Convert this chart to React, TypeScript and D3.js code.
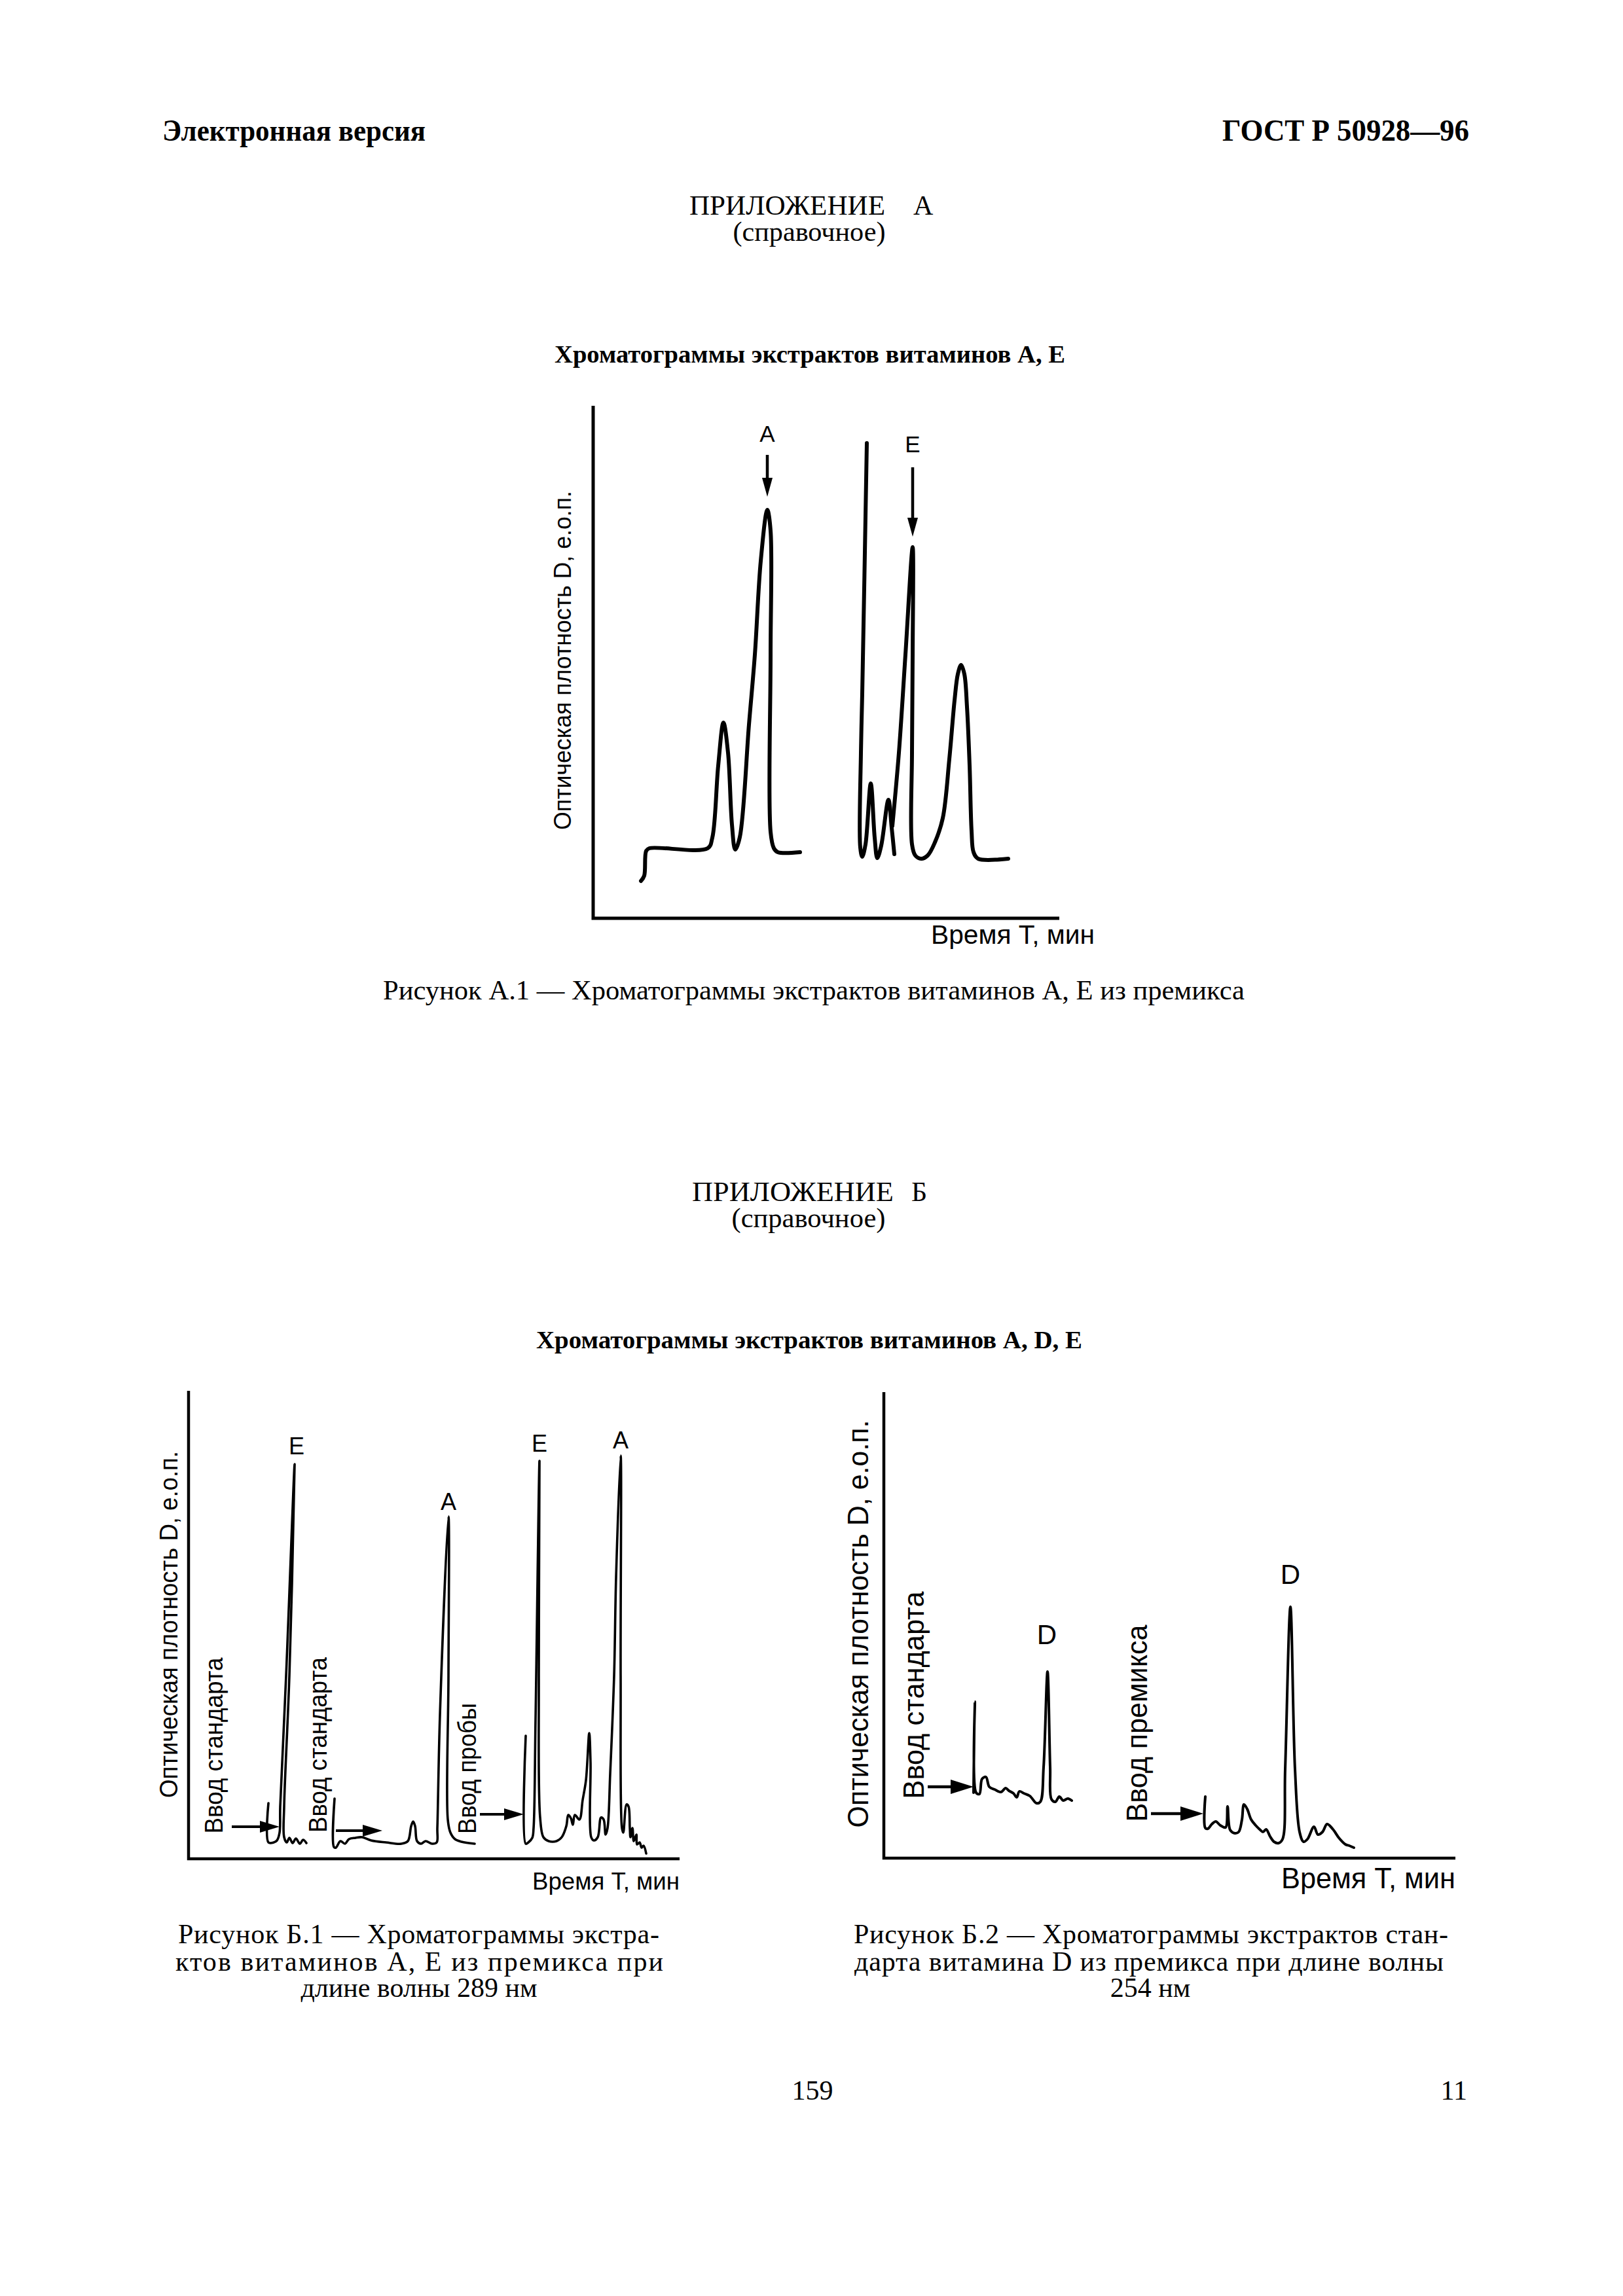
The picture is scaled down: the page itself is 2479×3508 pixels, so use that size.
import React from "react";
import * as d3 from "d3";

type Pt = [number, number];

// ---------- DATA (relative time, optical density; arbitrary units from the axis origin) ----------
// Figure A.1
const a1Run1: Pt[] = [[73,57],[78,65],[81,103],[86,107],[175,107],[182,123],[191,233],[199,299],[206,253],[212,143],[217,105],[224,124],[238,296],[247,403],[256,546],[266,624],[271,592],[271,403],[271,132],[276,107],[282,101],[316,101]];
const a1Run2: Pt[] = [[418,726],[411,343],[409,253],[408,108],[411,94],[416,113],[424,206],[430,123],[434,92],[440,111],[451,181],[456,138],[460,98]];
const a1Run3: Pt[] = [[457,141],[467,253],[477,403],[488,567],[488,403],[487,253],[487,113],[492,96],[501,91],[511,96],[522,116],[534,153],[544,243],[552,333],[557,373],[562,387],[567,373],[571,323],[575,233],[578,133],[581,101],[588,91],[634,91]];
const a1Arrows = [
  { label: "А", t: 266, tipD: 644, tailD: 708, labelD: 728 },
  { label: "Е", t: 488, tipD: 583, tailD: 689, labelD: 712 },
];

// Figure Б.1
const b1Run1: Pt[] = [[122,85],[122,25],[130,25],[135,28],[139,40],[140,80],[149,280],[162,603],[154,280],[146,80],[146,33],[150,25],[154,32],[159,24],[164,31],[170,23],[175,29],[180,24]];
const b1Run2: Pt[] = [[223,92],[222,18],[225,17],[232,27],[239,23],[245,30],[255,32],[265,33],[279,28],[302,25],[325,23],[335,27],[340,50],[343,57],[346,50],[349,27],[355,23],[362,27],[372,23],[379,25],[380,47],[384,220],[397,523],[397,280],[396,60],[400,40],[407,30],[417,26],[437,23]];
const b1Run3: Pt[] = [[515,188],[515,23],[519,25],[525,32],[527,47],[530,213],[536,608],[535,280],[537,63],[542,33],[550,27],[562,27],[570,33],[577,50],[580,67],[584,62],[587,52],[590,67],[597,60],[602,90],[607,120],[612,192],[614,147],[615,33],[619,28],[625,33],[630,63],[634,60],[637,37],[640,47],[644,130],[650,280],[653,430],[660,616],[660,280],[662,47],[664,40],[669,83],[672,80],[674,47],[675,33],[678,47],[680,27],[684,37],[685,22],[689,25],[692,17],[695,20],[699,8]];
const b1Injections = [
  { text: "Ввод стандарта", t0: 66, t1: 139, d: 49, labelT: 52, labelD: 173, len: 269 },
  { text: "Ввод стандарта", t0: 225, t1: 296, d: 43, labelT: 211, labelD: 174, len: 268 },
  { text: "Ввод пробы", t0: 445, t1: 512, d: 68, labelT: 439, labelD: 138, len: 200 },
];
const b1Peaks = [
  { label: "Е", t: 165, d: 618 },
  { label: "А", t: 397, d: 533 },
  { label: "Е", t: 536, d: 622 },
  { label: "А", t: 660, d: 627 },
];

// Figure Б.2
const b2Run1: Pt[] = [[137,100],[139,239],[141,100],[146,98],[150,121],[156,124],[161,109],[169,105],[179,101],[186,107],[191,103],[198,99],[203,93],[207,102],[214,99],[223,95],[233,84],[239,86],[244,139],[250,285],[254,139],[256,90],[262,86],[268,94],[274,88],[281,91],[287,88]];
const b2Run2: Pt[] = [[491,94],[491,46],[495,45],[501,52],[507,56],[514,50],[522,47],[525,79],[529,43],[536,38],[542,40],[547,59],[550,82],[555,75],[561,59],[568,50],[574,44],[579,40],[584,44],[590,33],[596,25],[603,23],[609,29],[613,136],[621,384],[628,136],[635,40],[641,25],[647,29],[657,48],[663,36],[670,40],[677,52],[686,44],[695,31],[705,21],[711,19],[718,16]];
const b2Injections = [
  { text: "Ввод стандарта", t0: 67, t1: 137, d: 109, labelT: 61, labelD: 249, len: 317 },
  { text: "Ввод премикса", t0: 408, t1: 488, d: 68, labelT: 402, labelD: 206, len: 301 },
];
const b2Peaks = [
  { label: "D", t: 249, d: 327 },
  { label: "D", t: 621, d: 419 },
];

// Texts
const headerLeft = "Электронная версия";
const headerRight = "ГОСТ Р 50928—96";
const appendixA = ["ПРИЛОЖЕНИЕ", "А"];
const appendixB = ["ПРИЛОЖЕНИЕ", "Б"];
const reference = "(справочное)";
const titleA = "Хроматограммы экстрактов витаминов А, Е";
const titleB = "Хроматограммы экстрактов витаминов А, D, Е";
const captionA1 = "Рисунок А.1 — Хроматограммы экстрактов витаминов А, Е из премикса";
const captionB1 = ["Рисунок Б.1 — Хроматограммы экстра-", "ктов витаминов А, Е из премикса при", "длине волны 289 нм"];
const captionB2 = ["Рисунок Б.2 — Хроматограммы экстрактов стан-", "дарта витамина D из премикса при длине волны", "254 нм"];
const yLabel = "Оптическая плотность D, е.о.п.";
const xLabel = "Время Т, мин";
const pageNumbers = ["159", "11"];

// ---------- LAYOUT ----------
const SERIF = "'Liberation Serif', 'Times New Roman', serif";
const SANS = "'Liberation Sans', Arial, sans-serif";

function makeScales(left: number, right: number, bottom: number, top: number, tMax: number, dMax: number) {
  const x = d3.scaleLinear().domain([0, tMax]).range([left, right]);
  const y = d3.scaleLinear().domain([0, dMax]).range([bottom, top]);
  return { x, y, tMax, dMax };
}

const sA1 = makeScales(906, 1618, 1403, 620, 712, 783);
const sB1 = makeScales(288, 1038, 2840, 2125, 750, 715);
const sB2 = makeScales(1350, 2223, 2839, 2127, 873, 712);

type Sc = ReturnType<typeof makeScales>;

function Trace({ pts, s, w }: { pts: Pt[]; s: Sc; w: number }) {
  const line = d3
    .line<Pt>()
    .x((d) => s.x(d[0]))
    .y((d) => s.y(d[1]))
    .curve(d3.curveCatmullRom.alpha(0.5));
  return <path d={line(pts) || ""} fill="none" stroke="#000" strokeWidth={w} strokeLinejoin="round" strokeLinecap="round" />;
}

function Axes({ s, w }: { s: Sc; w: number }) {
  const d = `M${s.x(0)},${s.y(s.dMax)}L${s.x(0)},${s.y(0)}L${s.x(s.tMax)},${s.y(0)}`;
  return <path d={d} fill="none" stroke="#000" strokeWidth={w} strokeLinejoin="miter" />;
}

function RotText({ x, y, text, size, len }: { x: number; y: number; text: string; size: number; len: number }) {
  return (
    <text
      transform={`translate(${x},${y}) rotate(-90)`}
      textAnchor="middle"
      fontFamily={SANS}
      fontSize={size}
      textLength={len}
      lengthAdjust="spacingAndGlyphs"
    >
      {text}
    </text>
  );
}

function HArrow({ x0, x1, y, head, half, w }: { x0: number; x1: number; y: number; head: number; half: number; w: number }) {
  return (
    <g>
      <line x1={x0} y1={y} x2={x1 - head + 2} y2={y} stroke="#000" strokeWidth={w} />
      <polygon points={`${x1},${y} ${x1 - head},${y - half} ${x1 - head},${y + half}`} fill="#000" />
    </g>
  );
}

export default function App() {
  return (
    <svg
      width={2479}
      height={3508}
      viewBox="0 0 2479 3508"
      style={{ position: "absolute", left: 0, top: 0, background: "#fff" }}
    >
      <rect x={0} y={0} width={2479} height={3508} fill="#fff" />

      {/* Header */}
      <text x={248} y={215} fontFamily={SERIF} fontWeight="bold" fontSize={46} textLength={402} lengthAdjust="spacingAndGlyphs">
        {headerLeft}
      </text>
      <text x={1867} y={215} fontFamily={SERIF} fontWeight="bold" fontSize={46} textLength={377} lengthAdjust="spacingAndGlyphs">
        {headerRight}
      </text>

      {/* Appendix A */}
      <text x={1053} y={328} fontFamily={SERIF} fontSize={42} textLength={299} lengthAdjust="spacingAndGlyphs">{appendixA[0]}</text>
      <text x={1395} y={328} fontFamily={SERIF} fontSize={42}>{appendixA[1]}</text>
      <text x={1236} y={368} textAnchor="middle" fontFamily={SERIF} fontSize={42} textLength={233} lengthAdjust="spacingAndGlyphs">{reference}</text>
      <text x={1237} y={554} textAnchor="middle" fontFamily={SERIF} fontWeight="bold" fontSize={38} textLength={780} lengthAdjust="spacingAndGlyphs">{titleA}</text>

      {/* Figure A.1 */}
      <Axes s={sA1} w={5} />
      <Trace pts={a1Run1} s={sA1} w={6} />
      <Trace pts={a1Run2} s={sA1} w={6} />
      <Trace pts={a1Run3} s={sA1} w={6} />
      {a1Arrows.map((a, i) => {
        const x = sA1.x(a.t);
        const tip = sA1.y(a.tipD);
        return (
          <g key={i}>
            <line x1={x} y1={sA1.y(a.tailD)} x2={x} y2={tip - 26} stroke="#000" strokeWidth={4.5} />
            <polygon points={`${x},${tip} ${x - 8},${tip - 29} ${x + 8},${tip - 29}`} fill="#000" />
            <text x={x} y={sA1.y(a.labelD)} textAnchor="middle" fontFamily={SANS} fontSize={35}>{a.label}</text>
          </g>
        );
      })}
      <RotText x={872} y={1009} text={yLabel} size={36} len={518} />
      <text x={1422} y={1442} fontFamily={SANS} fontSize={40} textLength={250} lengthAdjust="spacingAndGlyphs">{xLabel}</text>
      <text x={1243} y={1527} textAnchor="middle" fontFamily={SERIF} fontSize={42} textLength={1316} lengthAdjust="spacingAndGlyphs">{captionA1}</text>

      {/* Appendix B */}
      <text x={1057} y={1835} fontFamily={SERIF} fontSize={42} textLength={308} lengthAdjust="spacingAndGlyphs">{appendixB[0]}</text>
      <text x={1392} y={1835} fontFamily={SERIF} fontSize={42}>{appendixB[1]}</text>
      <text x={1235} y={1875} textAnchor="middle" fontFamily={SERIF} fontSize={42} textLength={235} lengthAdjust="spacingAndGlyphs">{reference}</text>
      <text x={1236} y={2060} textAnchor="middle" fontFamily={SERIF} fontWeight="bold" fontSize={38} textLength={834} lengthAdjust="spacingAndGlyphs">{titleB}</text>

      {/* Figure Б.1 */}
      <Axes s={sB1} w={4.5} />
      <Trace pts={b1Run1} s={sB1} w={3.6} />
      <Trace pts={b1Run2} s={sB1} w={3.6} />
      <Trace pts={b1Run3} s={sB1} w={3.6} />
      {b1Injections.map((a, i) => (
        <g key={i}>
          <HArrow x0={sB1.x(a.t0)} x1={sB1.x(a.t1)} y={sB1.y(a.d)} head={30} half={9} w={4} />
          <RotText x={sB1.x(a.labelT)} y={sB1.y(a.labelD)} text={a.text} size={38} len={a.len} />
        </g>
      ))}
      {b1Peaks.map((p, i) => (
        <text key={i} x={sB1.x(p.t)} y={sB1.y(p.d)} textAnchor="middle" fontFamily={SANS} fontSize={36}>{p.label}</text>
      ))}
      <RotText x={271} y={2482} text={yLabel} size={39} len={530} />
      <text x={1038} y={2887} textAnchor="end" fontFamily={SANS} fontSize={37} textLength={225} lengthAdjust="spacingAndGlyphs">{xLabel}</text>
      <text x={272} y={2969} fontFamily={SERIF} fontSize={42} textLength={735} lengthAdjust="spacing">{captionB1[0]}</text>
      <text x={268} y={3011} fontFamily={SERIF} fontSize={42} textLength={745} lengthAdjust="spacing">{captionB1[1]}</text>
      <text x={640} y={3051} textAnchor="middle" fontFamily={SERIF} fontSize={42}>{captionB1[2]}</text>

      {/* Figure Б.2 */}
      <Axes s={sB2} w={4.5} />
      <Trace pts={b2Run1} s={sB2} w={4} />
      <Trace pts={b2Run2} s={sB2} w={4} />
      {b2Injections.map((a, i) => (
        <g key={i}>
          <HArrow x0={sB2.x(a.t0)} x1={sB2.x(a.t1)} y={sB2.y(a.d)} head={35} half={11} w={4.5} />
          <RotText x={sB2.x(a.labelT)} y={sB2.y(a.labelD)} text={a.text} size={45} len={a.len} />
        </g>
      ))}
      {b2Peaks.map((p, i) => (
        <text key={i} x={sB2.x(p.t)} y={sB2.y(p.d)} textAnchor="middle" fontFamily={SANS} fontSize={42}>{p.label}</text>
      ))}
      <RotText x={1326} y={2481} text={yLabel} size={45} len={623} />
      <text x={2223} y={2885} textAnchor="end" fontFamily={SANS} fontSize={45} textLength={266} lengthAdjust="spacingAndGlyphs">{xLabel}</text>
      <text x={1304} y={2969} fontFamily={SERIF} fontSize={42} textLength={908} lengthAdjust="spacing">{captionB2[0]}</text>
      <text x={1305} y={3011} fontFamily={SERIF} fontSize={42} textLength={900} lengthAdjust="spacing">{captionB2[1]}</text>
      <text x={1757} y={3051} textAnchor="middle" fontFamily={SERIF} fontSize={42}>{captionB2[2]}</text>

      {/* Page numbers */}
      <text x={1241} y={3208} textAnchor="middle" fontFamily={SERIF} fontSize={42}>{pageNumbers[0]}</text>
      <text x={2241} y={3208} textAnchor="end" fontFamily={SERIF} fontSize={42}>{pageNumbers[1]}</text>
    </svg>
  );
}
